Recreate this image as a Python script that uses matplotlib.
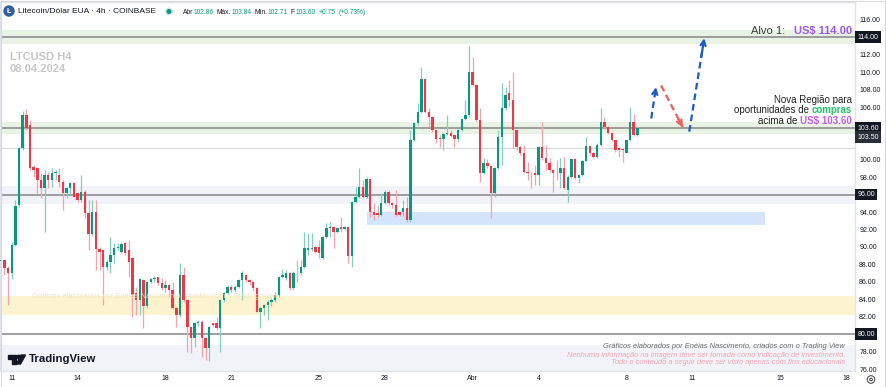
import numpy as np
import pandas as pd
import matplotlib
matplotlib.use("Agg")
import matplotlib.pyplot as plt
import matplotlib.dates as mdates
from matplotlib.patches import Rectangle, Circle, Polygon
from matplotlib.transforms import blended_transform_factory

plt.rcParams['font.family'] = ['Liberation Sans', 'DejaVu Sans']

# LTCUSD 4h candles (COINBASE), first bar 10.03.2024 12:00
opens = [
    88.40, 88.50, 87.60, 86.97, 90.22, 94.80, 101.29, 105.10, 103.96, 99.19,
    99.00, 97.66, 96.70, 98.23, 97.66, 98.42, 98.23, 97.47, 96.13, 96.70,
    97.28, 96.13, 95.37, 96.32, 93.84, 91.44, 94.03, 89.72, 89.64, 87.74,
    88.31, 89.07, 89.84, 89.45, 90.41, 89.64, 88.69, 84.68, 83.92, 86.21,
    83.20, 86.02, 86.28, 86.51, 85.83, 85.25, 85.64, 85.06, 82.97, 82.20,
    86.78, 83.92, 80.79, 79.60, 81.25, 81.44, 79.60, 78.38, 81.25, 81.25,
    80.68, 83.92, 84.68, 85.45, 85.06, 85.45, 86.21, 86.78, 86.21, 86.02,
    85.25, 82.58, 83.00, 83.35, 83.73, 83.92, 84.49, 86.59, 86.40, 87.05,
    85.25, 87.05, 86.97, 87.74, 89.64, 89.72, 89.95, 89.95, 88.70, 91.17,
    92.13, 92.32, 91.74, 92.24, 92.05, 92.32, 88.96, 95.18, 95.75, 96.90,
    95.75, 97.73, 94.03, 93.84, 93.65, 95.06, 96.32, 95.06, 94.80, 94.03,
    94.03, 94.42, 93.08, 102.24, 104.15, 105.48, 109.19, 105.48, 104.91, 103.38,
    102.43, 102.32, 102.93, 103.00, 102.81, 102.32, 103.38, 104.61, 105.10, 110.06,
    108.54, 104.53, 98.42, 99.57, 99.26, 96.13, 99.00, 102.62, 105.87, 107.58,
    106.82, 103.38, 101.48, 100.71, 98.61, 98.50, 98.42, 98.23, 101.48, 100.14,
    99.57, 98.80, 98.50, 98.42, 99.07, 96.51, 98.04, 100.03, 97.93, 98.23,
    99.87, 101.55, 100.79, 100.33, 101.67, 104.34, 103.69, 103.00, 102.24, 101.29,
    101.17, 100.79, 102.24, 104.34, 102.86]
highs = [
    88.60, 88.60, 87.80, 90.60, 95.37, 101.48, 105.60, 105.75, 104.53, 99.38,
    99.19, 98.42, 98.80, 98.61, 99.00, 98.80, 99.00, 97.66, 96.90, 97.47,
    97.40, 96.32, 98.23, 96.51, 95.37, 95.37, 95.37, 90.03, 89.80, 88.50,
    91.17, 90.41, 90.41, 90.60, 90.60, 90.79, 88.80, 85.45, 86.40, 86.30,
    86.10, 86.40, 86.70, 86.60, 86.40, 86.20, 85.80, 86.02, 83.10, 88.12,
    87.74, 84.00, 80.87, 81.40, 81.60, 81.60, 79.70, 81.00, 81.40, 82.01,
    84.00, 84.80, 85.60, 85.60, 85.60, 86.30, 87.20, 86.90, 86.30, 86.10,
    85.45, 83.10, 83.50, 83.90, 84.20, 84.87, 86.70, 87.43, 87.35, 87.10,
    87.20, 88.50, 88.50, 91.74, 91.63, 91.55, 90.10, 90.79, 91.30, 92.77,
    92.89, 92.40, 92.20, 93.46, 92.40, 92.40, 95.30, 96.90, 98.99, 97.66,
    98.04, 97.80, 94.99, 94.80, 96.13, 96.51, 96.51, 95.10, 96.51, 94.10,
    95.37, 95.75, 103.38, 104.34, 106.51, 110.56, 109.30, 105.87, 104.95, 103.40,
    102.81, 103.00, 105.10, 103.38, 102.90, 103.50, 104.70, 106.82, 113.00, 111.78,
    108.60, 105.87, 100.14, 100.03, 99.30, 99.10, 103.38, 108.73, 108.35, 109.11,
    110.06, 103.40, 101.50, 101.67, 99.76, 98.60, 99.38, 101.60, 104.34, 101.67,
    100.14, 98.90, 99.95, 100.14, 100.33, 98.20, 100.10, 100.22, 98.30, 99.95,
    102.55, 101.60, 100.85, 101.86, 105.94, 104.84, 103.84, 103.10, 102.30, 101.40,
    101.30, 102.30, 106.06, 105.22, 103.84]
lows = [
    88.30, 86.78, 83.35, 86.28, 90.10, 94.60, 101.10, 103.38, 98.80, 98.04,
    96.13, 95.56, 91.74, 96.70, 96.90, 97.66, 96.90, 94.22, 95.56, 95.94,
    95.70, 95.18, 95.18, 93.27, 89.64, 91.30, 87.35, 87.35, 83.35, 87.35,
    86.97, 88.12, 89.60, 89.30, 89.10, 86.59, 82.01, 82.20, 82.20, 80.68,
    83.00, 85.90, 86.00, 85.60, 85.06, 84.90, 84.30, 82.90, 80.87, 82.00,
    83.70, 78.00, 77.81, 78.58, 80.90, 77.40, 77.05, 76.97, 80.90, 80.50,
    78.00, 83.70, 84.50, 84.80, 84.90, 85.30, 83.92, 86.00, 85.60, 85.00,
    82.50, 80.68, 82.20, 81.63, 83.20, 83.70, 84.30, 86.40, 86.20, 85.10,
    85.10, 86.00, 86.80, 87.60, 89.07, 89.50, 89.26, 88.70, 88.60, 91.00,
    91.17, 89.84, 91.60, 91.74, 91.90, 88.12, 87.74, 95.00, 95.60, 95.60,
    95.60, 93.46, 93.08, 93.40, 93.50, 94.90, 94.80, 94.42, 93.60, 93.50,
    93.60, 92.90, 92.90, 102.10, 104.00, 105.30, 105.30, 103.77, 103.19, 101.86,
    101.48, 101.10, 102.80, 102.60, 101.48, 102.05, 103.30, 104.50, 104.90, 108.40,
    104.34, 97.47, 98.30, 98.99, 93.27, 95.75, 98.90, 99.38, 105.70, 106.06,
    101.29, 101.10, 100.52, 98.42, 97.66, 96.70, 97.09, 97.09, 100.00, 98.80,
    98.61, 96.32, 97.66, 96.70, 96.60, 95.18, 97.90, 97.80, 97.28, 98.10,
    99.80, 100.52, 100.20, 100.20, 101.60, 103.50, 102.90, 102.10, 100.90, 100.33,
    99.76, 100.70, 102.10, 102.70, 102.71]
closes = [
    88.50, 87.54, 86.97, 90.22, 94.68, 101.29, 105.10, 103.58, 99.00, 98.80,
    97.66, 96.70, 98.23, 97.66, 98.42, 98.60, 97.47, 96.13, 96.70, 97.28,
    95.75, 95.37, 96.32, 93.84, 91.44, 94.03, 89.72, 89.45, 87.74, 88.31,
    89.07, 89.84, 90.03, 90.30, 89.26, 88.31, 84.49, 83.92, 86.28, 83.20,
    86.02, 86.28, 86.48, 85.83, 85.25, 85.64, 85.06, 82.97, 82.20, 86.78,
    83.92, 80.79, 79.60, 81.25, 81.44, 79.60, 78.38, 80.87, 81.06, 80.68,
    83.92, 84.68, 85.45, 85.06, 85.45, 86.21, 86.97, 86.21, 86.02, 85.25,
    82.58, 83.00, 83.35, 83.73, 83.92, 84.49, 86.59, 86.78, 87.05, 85.25,
    87.05, 86.97, 87.74, 89.84, 89.84, 89.90, 89.45, 89.26, 91.17, 92.13,
    92.32, 91.74, 92.13, 92.05, 92.32, 88.96, 95.18, 95.75, 96.90, 95.75,
    97.73, 94.03, 93.65, 93.65, 95.06, 96.32, 95.06, 94.80, 93.65, 93.65,
    94.42, 93.08, 102.24, 104.15, 105.48, 109.19, 105.48, 104.91, 103.38, 102.32,
    102.32, 102.93, 103.10, 102.70, 102.32, 103.38, 104.61, 105.10, 110.06, 108.54,
    104.53, 98.42, 99.57, 99.26, 96.13, 99.00, 102.62, 105.87, 107.39, 106.82,
    103.38, 101.48, 100.71, 98.61, 98.42, 98.42, 98.23, 101.48, 100.14, 99.57,
    98.80, 98.50, 98.42, 99.07, 96.70, 98.04, 100.03, 97.93, 98.23, 99.87,
    101.55, 100.79, 100.33, 101.67, 104.34, 103.69, 103.00, 102.24, 101.10, 101.10,
    101.10, 102.24, 104.34, 102.81, 103.60]
first_bar = "2024-03-10 12:00"

# levels drawn on the chart
levels = [114.0, 103.6, 96.0, 80.0]
level_labels = ["114.00", "103.60", "96.00", "80.00"]
price_tag = 103.50
thin_level = 101.3
zones = [(113.23, 114.84, "#e9f3e5"), (102.90, 104.34, "#e9f3e5"),
         (94.90, 97.00, "#f1f3f9"), (82.20, 84.38, "#fdf4cf"),
         (70.00, 78.80, "#f1f3f9")]
box_bars = (97, 206)          # bar index counted from 11.03 00:00
box_prices = (92.50, 94.03)

yticks = np.arange(76, 117, 2)
hidden_ticks = [114, 104, 102, 96, 80]   # covered by the price tags
xtick_days = ["2024-03-11", "2024-03-14", "2024-03-18", "2024-03-21",
              "2024-03-25", "2024-03-28", "2024-04-01", "2024-04-04",
              "2024-04-08", "2024-04-11", "2024-04-15", "2024-04-18"]
xtick_labels = ["11", "14", "18", "21", "25", "28", "Abr", "4", "8", "11", "15", "18"]

# projected path (bar index, price)
arrows = [((174.8, 104.7), (176.1, 108.3), "#1d5cc0"),
          ((177.5, 108.5), (183.4, 103.7), "#f25c5c"),
          ((185.2, 103.2), (189.3, 113.9), "#1d5cc0")]

times = pd.date_range(first_bar, periods=len(opens), freq="4h")
x = mdates.date2num(times)
t0 = mdates.date2num(pd.Timestamp("2024-03-11"))
bar = 1 / 6

o = np.array(opens)
h = np.array(highs)
l = np.array(lows)
c = np.array(closes)
up = c >= o
body_col = np.where(up, "#089981", "#f23645")
wick_col = np.where(up, "#86cdc1", "#f7a2aa")

fig = plt.figure(figsize=(8.86, 3.87), dpi=100)
fig.patch.set_facecolor("white")
ax = fig.add_axes([0, 16 / 387, 855 / 886, 369 / 387])

for lo, hi, col in zones:
    ax.axhspan(lo, hi, color=col, lw=0, zorder=0)
ax.add_patch(Rectangle((t0 + box_bars[0] * bar, box_prices[0]),
                       (box_bars[1] - box_bars[0]) * bar,
                       box_prices[1] - box_prices[0],
                       fc="#d4e4fa", ec="none", zorder=0.5))
for lv in levels:
    ax.axhline(lv, color="#8f8f8f", lw=1.2, zorder=1)
ax.axhline(thin_level, color="#d9d9d9", lw=0.8, zorder=1)

# candles
ax.vlines(x, l, h, colors=wick_col, lw=0.9, zorder=2)
ax.bar(x, np.maximum(np.abs(c - o), 0.1), width=0.65 * bar,
       bottom=np.minimum(o, c), color=body_col, lw=0, zorder=3)

# projected moves
for (b0, p0), (b1, p1), col in arrows:
    xa, xb = t0 + b0 * bar, t0 + b1 * bar
    ax.plot([xa, xb], [p0, p1], color=col, lw=1.6, ls=(0, (3, 1.8)), zorder=4)
    ax.annotate("", xy=(xb, p1), xytext=(xa + 0.8 * (xb - xa), p0 + 0.8 * (p1 - p0)),
                arrowprops=dict(arrowstyle="->", color=col, lw=1.6,
                                mutation_scale=9, shrinkA=0, shrinkB=0), zorder=4)

ax.set_xlim(t0 - 3.2 * bar, t0 + 230.5 * bar)
ax.set_ylim(75.8, 118.04)
ax.set_facecolor("white")

ax.set_xticks(mdates.date2num(pd.to_datetime(xtick_days)))
ax.set_xticklabels(xtick_labels)
ax.tick_params(axis="x", length=0, pad=3.2, labelsize=5, labelcolor="#131722")
ax.yaxis.tick_right()
ax.set_yticks(yticks)
ax.set_yticklabels(["" if v in hidden_ticks else f"{v:.2f}" for v in yticks])
ax.tick_params(axis="y", length=0, pad=3, labelsize=5, labelcolor="#131722")
for side in ["top", "left", "right", "bottom"]:
    ax.spines[side].set_color("#e0e3eb")
    ax.spines[side].set_linewidth(1)

# price tags on the scale
trans = blended_transform_factory(ax.transAxes, ax.transData)
for lv, lab in zip(levels, level_labels):
    ax.text(1.0028, lv, lab, transform=trans, ha="left", va="center", fontsize=5,
            color="white", clip_on=False, zorder=6,
            bbox=dict(boxstyle="square,pad=0.35", fc="#131722", ec="none"))
ax.text(1.0028, price_tag - 0.95, f"{price_tag:.2f}", transform=trans, ha="left",
        va="center", fontsize=5, color="white", clip_on=False, zorder=6,
        bbox=dict(boxstyle="square,pad=0.35", fc="#2a2e39", ec="none"))

# overlay in pixel coordinates for texts and logos
ov = fig.add_axes([0, 0, 1, 1], zorder=10)
ov.set_xlim(0, 886)
ov.set_ylim(387, 0)
ov.axis("off")

ov.add_patch(Circle((9, 11), 5, color="#345d9d"))
ov.text(9, 11.3, "Ł", color="white", fontsize=5, weight="bold", ha="center", va="center")
ov.text(18, 11.3, "Litecoin/Dólar EUA · 4h · COINBASE", fontsize=6, color="#131722", va="center")
ov.add_patch(Circle((169, 11.5), 3.2, color="#cdebe5"))
ov.add_patch(Circle((169, 11.5), 1.8, color="#089981"))

green = "#089981"
pieces = [("Abr", "#131722", 0), ("102.86", green, 0.3), ("Máx.", "#131722", 2.2),
          ("103.84", green, 0.3), ("Mín.", "#131722", 2.2), ("102.71", green, 0.3),
          ("F", "#131722", 2.2), ("103.60", green, 0.3), ("+0.75", green, 2.2),
          ("(+0.73%)", green, 2.2)]
prev = ov.text(182.5, 14, pieces[0][0], fontsize=4.8, color=pieces[0][1], va="baseline")
for s, col, gap in pieces[1:]:
    prev = ov.annotate(s, xy=(1, 0), xycoords=prev, xytext=(gap, 0),
                       textcoords="offset points", fontsize=4.8, color=col,
                       ha="left", va="bottom")

ov.text(10, 57, "LTCUSD H4", fontsize=8, weight="bold", color="#c7c7c7", va="center")
ov.text(10, 69, "08.04.2024", fontsize=8, weight="bold", color="#c7c7c7", va="center")

# target and zone notes
t = ov.text(852, 31, "US$ 114.00", fontsize=8, weight="bold", color="#9b59f2",
            ha="right", va="center")
ov.annotate("Alvo 1:", xy=(0, 0), xycoords=t, xytext=(-6, 0), textcoords="offset points",
            fontsize=8, color="#3d3d3d", ha="right", va="bottom")
ov.text(852, 100, "Nova Região para", fontsize=7, color="#222222", ha="right", va="center")
t = ov.text(852, 110.3, "compras", fontsize=7, weight="bold", color="#1dc168",
            ha="right", va="center")
ov.annotate("oportunidades de", xy=(0, 0), xycoords=t, xytext=(-2, 0),
            textcoords="offset points", fontsize=7, color="#222222", ha="right", va="bottom")
t = ov.text(852, 120.7, "US$ 103.60", fontsize=7, weight="bold", color="#c35cf0",
            ha="right", va="center")
ov.annotate("acima de", xy=(0, 0), xycoords=t, xytext=(-2, 0),
            textcoords="offset points", fontsize=7, color="#222222", ha="right", va="bottom")

# faint watermark inside the yellow band
ov.text(32, 296, "Gráficos elaborados por Enéias Nascimento, criados com o Trading View",
        fontsize=5.4, color="#eee4bf", va="center")

ov.text(845, 346, "Gráficos elaborados por Enéias Nascimento, criados com o Trading View",
        fontsize=5.4, style="italic", color="#6f6f6f", ha="right", va="center")
ov.text(845, 355.5, "Nenhuma informação na imagem deve ser tomada como indicação de investimento.",
        fontsize=5.4, style="italic", color="#f3a5b4", ha="right", va="center")
ov.text(845, 363, "Todo o conteúdo a seguir deve ser visto apenas com fins educacionais",
        fontsize=5.4, style="italic", color="#f3a5b4", ha="right", va="center")

# TradingView logo
ov.add_patch(Polygon([(8, 355), (16, 355), (16, 364), (12, 364), (12, 358.5), (8, 358.5)],
                     closed=True, color="#131722"))
ov.add_patch(Circle((18.6, 357), 1.7, color="#131722"))
ov.add_patch(Polygon([(21, 355), (25.5, 355), (20.5, 364), (16.5, 364)], closed=True,
                     color="#131722"))
ov.text(29, 359.5, "TradingView", fontsize=8.2, weight="bold", color="#131722", va="center")

# settings gear under the price scale
ov.add_patch(Circle((871, 379.5), 3.8, fill=False, ec="#555555", lw=0.8))
ov.add_patch(Circle((871, 379.5), 1.3, fill=False, ec="#555555", lw=0.8))
ov.add_patch(Rectangle((0.5, 0.5), 885, 386, fill=False, ec="#d9d9d9", lw=0.8))

fig.savefig("out.png", dpi=100, facecolor="white")
